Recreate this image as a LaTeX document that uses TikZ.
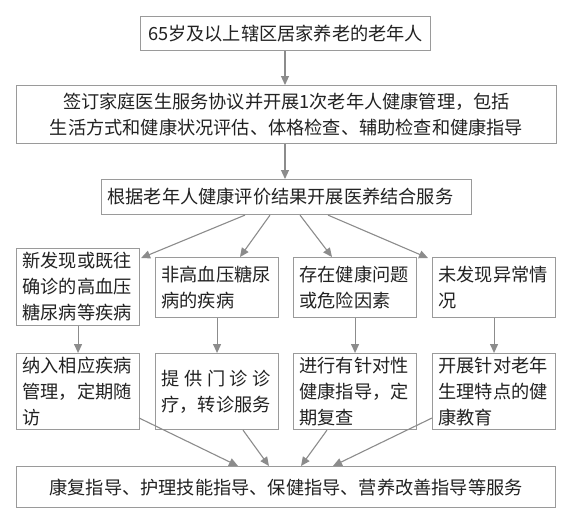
\documentclass[tikz,border=0pt]{standalone}
\usepackage{fontspec}
\setmainfont{Noto Sans CJK SC}
\usetikzlibrary{arrows.meta,calc}
\definecolor{boxgray}{HTML}{9A9A9A}
\definecolor{linegray}{HTML}{8C8C8C}
\definecolor{txt}{HTML}{222222}
\begin{document}
\begin{tikzpicture}[x=1pt,y=-1pt,
  box/.style={draw=boxgray,line width=1.1pt,inner xsep=6pt,inner ysep=0pt,
    font=\fontsize{18.2}{26}\selectfont,text=txt,anchor=north west},
  rowbox/.style={box,minimum width=123pt,text width=111pt,align=left},
  arr/.style={draw=linegray,line width=1.1pt,-{Triangle[length=9pt,width=8pt]}}
]
\fill[white] (0,0) rectangle (568,520);
\useasboundingbox (0,0) rectangle (568,520);

\node[box,minimum width=290pt,minimum height=34pt,align=center] (b1) at (140,16) {65岁及以上辖区居家养老的老年人};
\node[box,minimum width=540pt,minimum height=58pt,align=center] (b2) at (16,85)
  {签订家庭医生服务协议并开展1次老年人健康管理，包括\\生活方式和健康状况评估、体格检查、辅助检查和健康指导};
\node[box,minimum width=370pt,text width=358pt,minimum height=35pt,align=left] (b3) at (101,179)
  {根据老年人健康评价结果开展医养结合服务};

\node[rowbox,minimum height=77pt] (r4a) at (16,248) {新发现或既往\\确诊的高血压\\糖尿病等疾病};
\node[rowbox,minimum height=60pt] (r4b) at (155,257) {非高血压糖尿\\病的疾病};
\node[rowbox,minimum height=60pt] (r4c) at (293,257) {存在健康问题\\或危险因素};
\node[rowbox,minimum height=60pt] (r4d) at (432,257) {未发现异常情\\况};

\node[rowbox,minimum height=76pt] (r5a) at (16,353) {纳入相应疾病\\管理，定期随\\访};
\node[rowbox,minimum height=76pt] (r5b) at (155,353) {\makebox[109.2pt]{提\hfill 供\hfill 门\hfill 诊\hfill 诊}\\疗，转诊服务};
\node[rowbox,minimum height=76pt] (r5c) at (293,353) {进行有针对性\\健康指导，定\\期复查};
\node[rowbox,minimum height=76pt] (r5d) at (432,353) {开展针对老年\\生理特点的健\\康教育};

\node[box,minimum width=539pt,minimum height=41pt,align=center] (b6) at (16,466)
  {康复指导、护理技能指导、保健指导、营养改善指导等服务};

% vertical arrows
\draw[arr] (b1.south -| 285,0) -- (b2.north -| 285,0);
\draw[arr] (b2.south -| 285,0) -- (b3.north -| 285,0);

% fan out
\draw[arr] ($(b3.south west)+(144,0)$) -- ($(r4a.north east)+(1,10)$);
\draw[arr] ($(b3.south west)+(169,0)$) -- ($(r4b.north west)+(85,0)$);
\draw[arr] ($(b3.south west)+(199,0)$) -- ($(r4c.north west)+(39,0)$);
\draw[arr] ($(b3.south west)+(227,0)$) -- ($(r4d.north west)+(-4,1)$);

% row 4 -> row 5
\draw[arr] (r4a.south) -- (r4a.south |- r5a.north);
\draw[arr] (r4b.south) -- (r4b.south |- r5b.north);
\draw[arr] (r4c.south) -- (r4c.south |- r5c.north);
\draw[arr] (r4d.south) -- (r4d.south |- r5d.north);

% converge
\draw[arr] ($(r5a.north east)+(-1,65)$) -- ($(b6.north west)+(222,0)$);
\draw[arr] ($(r5b.south west)+(88,0)$) -- ($(b6.north west)+(253,0)$);
\draw[arr] ($(r5c.south west)+(34,0)$) -- ($(b6.north west)+(285,0)$);
\draw[arr] ($(r5d.north west)+(0,65)$) -- ($(b6.north west)+(317,0)$);
\end{tikzpicture}
\end{document}
